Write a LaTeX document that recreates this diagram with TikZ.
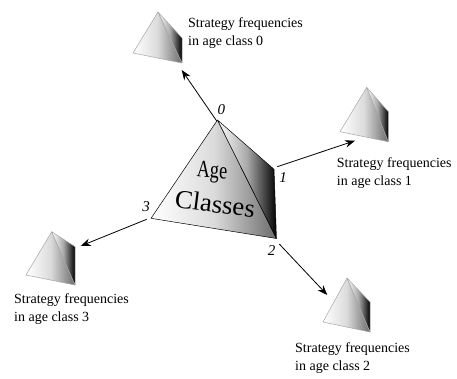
\documentclass[tikz,border=0pt]{standalone}
\usepackage{fontspec}
\setmainfont{Liberation Serif}
\usetikzlibrary{arrows.meta}
\tikzset{
  frontface/.style={left color=white, right color=black!58, middle color=black!14},
  sideface/.style={left color=white, right color=black, middle color=black!34},
  caption/.style={anchor=north west, inner sep=0pt, align=left, font=\rmfamily\fontsize{14}{18}\selectfont},
  vlabel/.style={inner sep=0pt, font=\rmfamily\fontsize{15}{16}\selectfont\itshape},
  arr/.style={-{Stealth[length=10pt,width=7.5pt]}, line width=0.8pt},
  bigtext/.style={inner sep=0pt, anchor=base, font=\rmfamily\fontsize{26}{26}\selectfont},
}
\newcommand\mytetra[6]{%
  \coordinate (#1a) at #2;
  \coordinate (#1l) at #3;
  \coordinate (#1b) at #4;
  \coordinate (#1r) at #5;
  \shadedraw[frontface, draw=#6, line width=0.5pt, line join=round] (#1a) -- (#1l) -- (#1b) -- cycle;
  \shadedraw[sideface, draw=#6, line width=0.5pt, line join=round] (#1a) -- (#1b) -- (#1r) -- cycle;
}
\begin{document}
\begin{tikzpicture}[x=1pt, y=-1pt]
  \useasboundingbox (0,0) rectangle (457,378);
  % big tetrahedron
  \mytetra{B}{(217.5,120)}{(151,218.3)}{(276.5,238.5)}{(274,169.3)}{black}
  % small tetrahedra
  \mytetra{T0}{(158,12)}{(133,53)}{(182,63)}{(182,38)}{gray!70}
  \mytetra{T1}{(366.7,87.3)}{(340,131.7)}{(388.3,141.7)}{(388.3,111.7)}{gray!70}
  \mytetra{T2}{(347,278)}{(323,322)}{(370,332)}{(370,302)}{gray!70}
  \mytetra{T3}{(51.7,231.7)}{(26,275)}{(75,285)}{(75,246.7)}{gray!70}
  % big text
  \node[bigtext, font=\rmfamily\fontsize{24}{24}\selectfont, text depth=1pt, xscale=0.76, rotate=-4] (age) at (211.7,177.5) {Age};
  \node[bigtext, xscale=1.03, rotate=-7] (classes) at (214,212.5) {Classes};
  % vertex labels
  \node[vlabel] (l0) at (221.3,110) {0};
  \node[vlabel] (l1) at (283,177.5) {1};
  \node[vlabel] (l2) at (271.7,250.5) {2};
  \node[vlabel] (l3) at (146,207) {3};
  % arrow end points
  \coordinate (s0) at (216.7,121);
  \coordinate (e0) at (181.7,70);
  \coordinate (s1) at (277.3,166.7);
  \coordinate (e1) at (355,140.7);
  \coordinate (s2) at (279.3,244);
  \coordinate (e2) at (327.3,295);
  \coordinate (s3) at (146.7,219.3);
  \coordinate (e3) at (80.7,246);
  \draw[arr] (s0) -- (e0);
  \draw[arr] (s1) -- (e1);
  \draw[arr] (s2) -- (e2);
  \draw[arr] (s3) -- (e3);
  % captions
  \node[caption] (c0) at (188,17.5) {Strategy frequencies\\in age class 0};
  \node[caption] (c1) at (336.7,157.5) {Strategy frequencies\\in age class 1};
  \node[caption] (c2) at (295,342.5) {Strategy frequencies\\in age class 2};
  \node[caption] (c3) at (14,293.5) {Strategy frequencies\\in age class 3};
\end{tikzpicture}
\end{document}
